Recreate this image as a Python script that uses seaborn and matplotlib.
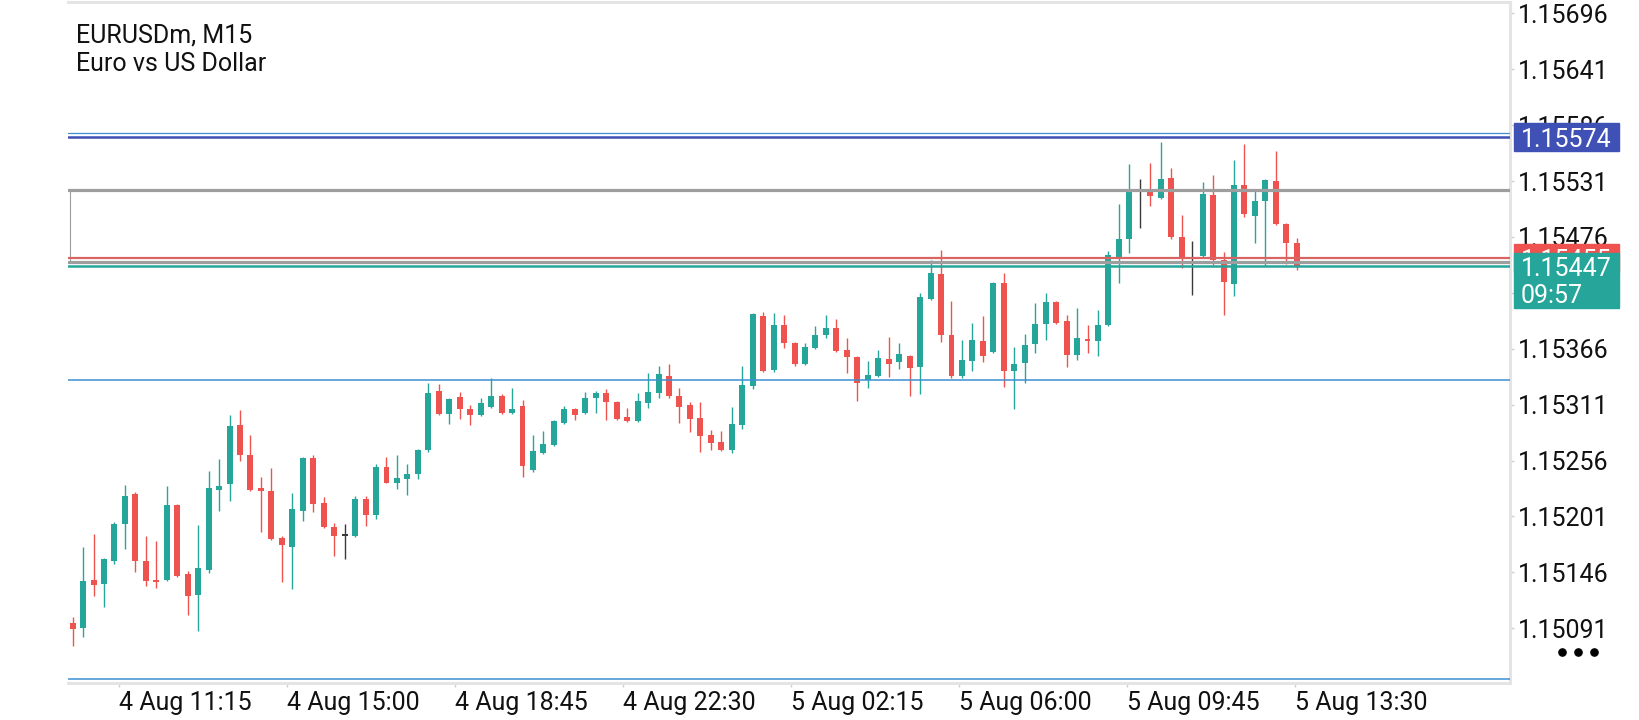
import numpy as np
import pandas as pd
import matplotlib
matplotlib.use('Agg')
import matplotlib.pyplot as plt
import matplotlib.transforms as mtransforms
from matplotlib.patches import Rectangle
from matplotlib.lines import Line2D
import seaborn as sns

# EURUSDm M15 candles
opens = [
    1.15096, 1.15091, 1.15139, 1.15135, 1.15157, 1.15194, 1.15223, 1.15157, 1.15139, 1.15139,
    1.15212, 1.15144, 1.15124, 1.15148, 1.15227, 1.15233, 1.15291, 1.15261, 1.15229, 1.15226,
    1.15180, 1.15171, 1.15206, 1.15259, 1.15214, 1.15191, 1.15182, 1.15182, 1.15218, 1.15202,
    1.15250, 1.15234, 1.15238, 1.15243, 1.15266, 1.15324, 1.15302, 1.15319, 1.15307, 1.15301,
    1.15309, 1.15320, 1.15303, 1.15310, 1.15247, 1.15263, 1.15271, 1.15293, 1.15307, 1.15303,
    1.15318, 1.15322, 1.15314, 1.15299, 1.15295, 1.15313, 1.15322, 1.15339, 1.15320, 1.15311,
    1.15298, 1.15281, 1.15274, 1.15266, 1.15291, 1.15329, 1.15398, 1.15345, 1.15389, 1.15372,
    1.15351, 1.15367, 1.15380, 1.15386, 1.15365, 1.15358, 1.15335, 1.15339, 1.15356, 1.15353,
    1.15359, 1.15348, 1.15415, 1.15440, 1.15380, 1.15339, 1.15354, 1.15374, 1.15363, 1.15431,
    1.15344, 1.15352, 1.15371, 1.15390, 1.15412, 1.15393, 1.15360, 1.15376, 1.15374, 1.15389,
    1.15456, 1.15474, 1.15522, 1.15521, 1.15514, 1.15534, 1.15476, 1.15455, 1.15457, 1.15517,
    1.15453, 1.15430, 1.15527, 1.15497, 1.15511, 1.15531, 1.15489, 1.15470]
highs = [
    1.15102, 1.15171, 1.15184, 1.15160, 1.15196, 1.15232, 1.15225, 1.15182, 1.15177, 1.15231,
    1.15213, 1.15147, 1.15193, 1.15246, 1.15258, 1.15301, 1.15306, 1.15281, 1.15240, 1.15249,
    1.15182, 1.15224, 1.15260, 1.15261, 1.15220, 1.15195, 1.15194, 1.15221, 1.15221, 1.15253,
    1.15260, 1.15261, 1.15253, 1.15267, 1.15332, 1.15331, 1.15318, 1.15323, 1.15311, 1.15318,
    1.15337, 1.15321, 1.15327, 1.15316, 1.15281, 1.15285, 1.15296, 1.15310, 1.15308, 1.15323,
    1.15324, 1.15326, 1.15315, 1.15308, 1.15322, 1.15342, 1.15349, 1.15351, 1.15327, 1.15314,
    1.15314, 1.15286, 1.15285, 1.15309, 1.15349, 1.15401, 1.15402, 1.15401, 1.15399, 1.15373,
    1.15372, 1.15388, 1.15399, 1.15395, 1.15377, 1.15359, 1.15354, 1.15365, 1.15378, 1.15372,
    1.15360, 1.15421, 1.15453, 1.15463, 1.15413, 1.15375, 1.15391, 1.15398, 1.15432, 1.15441,
    1.15368, 1.15381, 1.15411, 1.15421, 1.15413, 1.15399, 1.15406, 1.15389, 1.15404, 1.15462,
    1.15508, 1.15548, 1.15533, 1.15549, 1.15569, 1.15544, 1.15498, 1.15472, 1.15530, 1.15537,
    1.15461, 1.15552, 1.15567, 1.15521, 1.15533, 1.15561, 1.15490, 1.15475]
lows = [
    1.15074, 1.15082, 1.15123, 1.15112, 1.15154, 1.15169, 1.15146, 1.15133, 1.15131, 1.15138,
    1.15141, 1.15104, 1.15088, 1.15145, 1.15206, 1.15216, 1.15256, 1.15226, 1.15186, 1.15178,
    1.15137, 1.15130, 1.15197, 1.15205, 1.15190, 1.15162, 1.15159, 1.15181, 1.15192, 1.15199,
    1.15234, 1.15228, 1.15222, 1.15238, 1.15264, 1.15301, 1.15292, 1.15297, 1.15291, 1.15300,
    1.15308, 1.15302, 1.15302, 1.15240, 1.15245, 1.15262, 1.15270, 1.15292, 1.15296, 1.15302,
    1.15303, 1.15296, 1.15296, 1.15294, 1.15294, 1.15308, 1.15318, 1.15318, 1.15293, 1.15284,
    1.15264, 1.15266, 1.15265, 1.15263, 1.15287, 1.15326, 1.15343, 1.15343, 1.15367, 1.15349,
    1.15350, 1.15366, 1.15377, 1.15363, 1.15342, 1.15315, 1.15327, 1.15338, 1.15338, 1.15346,
    1.15320, 1.15321, 1.15414, 1.15373, 1.15337, 1.15337, 1.15344, 1.15353, 1.15362, 1.15328,
    1.15307, 1.15332, 1.15362, 1.15375, 1.15390, 1.15348, 1.15355, 1.15362, 1.15359, 1.15388,
    1.15431, 1.15460, 1.15485, 1.15506, 1.15513, 1.15474, 1.15445, 1.15419, 1.15455, 1.15448,
    1.15399, 1.15418, 1.15496, 1.15470, 1.15447, 1.15488, 1.15449, 1.15443]
closes = [
    1.15090, 1.15138, 1.15134, 1.15159, 1.15194, 1.15221, 1.15157, 1.15138, 1.15137, 1.15212,
    1.15142, 1.15123, 1.15150, 1.15229, 1.15231, 1.15290, 1.15261, 1.15227, 1.15226, 1.15179,
    1.15173, 1.15208, 1.15259, 1.15213, 1.15191, 1.15182, 1.15182, 1.15218, 1.15202, 1.15250,
    1.15234, 1.15239, 1.15243, 1.15266, 1.15322, 1.15302, 1.15317, 1.15307, 1.15301, 1.15313,
    1.15320, 1.15303, 1.15307, 1.15251, 1.15265, 1.15272, 1.15295, 1.15307, 1.15301, 1.15318,
    1.15322, 1.15314, 1.15297, 1.15295, 1.15315, 1.15323, 1.15341, 1.15320, 1.15309, 1.15297,
    1.15280, 1.15273, 1.15266, 1.15292, 1.15330, 1.15400, 1.15344, 1.15389, 1.15372, 1.15351,
    1.15368, 1.15380, 1.15386, 1.15364, 1.15358, 1.15332, 1.15340, 1.15357, 1.15351, 1.15361,
    1.15347, 1.15417, 1.15441, 1.15380, 1.15339, 1.15355, 1.15375, 1.15359, 1.15431, 1.15344,
    1.15351, 1.15370, 1.15390, 1.15412, 1.15391, 1.15360, 1.15377, 1.15374, 1.15389, 1.15458,
    1.15474, 1.15522, 1.15522, 1.15516, 1.15533, 1.15476, 1.15454, 1.15455, 1.15518, 1.15453,
    1.15432, 1.15527, 1.15499, 1.15511, 1.15532, 1.15489, 1.15470, 1.15447]

time_labels = ['4 Aug 11:15', '4 Aug 15:00', '4 Aug 18:45', '4 Aug 22:30',
               '5 Aug 02:15', '5 Aug 06:00', '5 Aug 09:45', '5 Aug 13:30']
price_ticks = [1.15696, 1.15641, 1.15586, 1.15531, 1.15476, 1.15421,
               1.15366, 1.15311, 1.15256, 1.15201, 1.15146, 1.15091]

# horizontal objects on the chart
alert_line = 1.15574
alert_line_thin = 1.15578
box_top = 1.15522
box_bottom = 1.15451
ask_price = 1.15455
bid_price = 1.15447
level_mid = 1.15335
level_low = 1.15041
countdown = '09:57'
title_line1 = 'EURUSDm, M15'
title_line2 = 'Euro vs US Dollar'

TEAL = '#26a69a'
RED = '#ef5350'
DOJI = '#3a3a3a'
INDIGO = '#3f51b5'
LBLUE = '#3d8fd1'
GRAY = '#9e9e9e'
FRAME = '#e4e4e4'

sns.set_theme(style='white')
plt.rcParams['font.family'] = ['Roboto', 'DejaVu Sans']

df = pd.DataFrame({'open': opens, 'high': highs, 'low': lows, 'close': closes})
df['bar'] = np.arange(len(df))
df['color'] = np.where(df['close'] > df['open'], TEAL,
                       np.where(df['close'] < df['open'], RED, DOJI))
df['body_low'] = df[['open', 'close']].min(axis=1)
df['body_h'] = (df['close'] - df['open']).abs().clip(lower=0.000014)

W, H = 1640, 720
fig = plt.figure(figsize=(W / 100, H / 100), dpi=100)
fig.patch.set_facecolor('white')
ax = fig.add_axes([68 / W, 37 / H, 1442 / W, 681 / H])

# candles
ax.vlines(df['bar'], df['low'], df['high'], colors=df['color'], lw=1.0, zorder=2)
ax.bar(df['bar'], df['body_h'], bottom=df['body_low'], width=0.57,
       color=df['color'], linewidth=0, zorder=3)

xmin, xmax = -0.44, 137.38
ax.set_xlim(xmin, xmax)
ax.set_ylim(1.150372, 1.157071)

# horizontal lines / rectangle
ax.axhline(alert_line_thin, color=LBLUE, lw=0.9, zorder=4)
ax.axhline(alert_line, color=INDIGO, lw=1.8, zorder=4)
ax.add_patch(Rectangle((xmin + 0.15, box_bottom), 300, box_top - box_bottom,
                       fill=False, edgecolor=GRAY, lw=0.8, zorder=4))
ax.axhline(box_top, color=GRAY, lw=2.3, zorder=4)
ax.axhline(box_bottom, color=GRAY, lw=2.3, zorder=4)
ax.axhline(ask_price, color='#d96462', lw=1.6, zorder=5)
ax.axhline(bid_price, color=TEAL, lw=1.8, zorder=5)
ax.axhline(level_mid, color=LBLUE, lw=1.1, zorder=4)
ax.axhline(level_low, color=LBLUE, lw=1.1, zorder=4)

# frame
for side in ['top', 'right', 'bottom']:
    ax.spines[side].set_color(FRAME)
    ax.spines[side].set_linewidth(2.2)
ax.spines['left'].set_visible(False)

# axes ticks
ax.yaxis.tick_right()
ax.set_yticks(price_ticks)
ax.set_yticklabels([f'{p:.5f}' for p in price_ticks])
ax.tick_params(axis='y', right=True, length=3, width=1, color='#cfcfcf',
               pad=2.5, labelsize=18, labelcolor='#111111')

tick_pos = np.linspace(4.46, 116.86, len(time_labels))
ax.set_xticks(tick_pos)
ax.set_xticklabels(time_labels)
ax.tick_params(axis='x', bottom=True, length=3, width=1, color='#cfcfcf',
               pad=3, labelsize=18, labelcolor='#111111')
for lbl in ax.get_xticklabels():
    lbl.set_horizontalalignment('left')
ax.grid(False)

# title
fig.text(76 / W, 1 - 43 / H, title_line1, fontsize=18, color='#111111', va='baseline')
fig.text(76 / W, 1 - 71 / H, title_line2, fontsize=18, color='#111111', va='baseline')

# price labels on the right scale
tf = mtransforms.blended_transform_factory(fig.transFigure, ax.transData)
bx, bw = 1514 / W, 105 / W
half = 0.000138

fig.add_artist(Rectangle((bx, alert_line - half), bw, 2 * half, transform=tf,
                         color=INDIGO, zorder=10))
fig.text(1521 / W, alert_line, f'{alert_line:.5f}', transform=tf, color='white',
         fontsize=18, va='center_baseline', zorder=11)

fig.add_artist(Rectangle((bx, ask_price - half), bw, 2 * half, transform=tf,
                         color=RED, zorder=10))
fig.text(1521 / W, ask_price, f'{ask_price:.5f}', transform=tf, color='white',
         fontsize=18, va='center_baseline', zorder=11)

fig.add_artist(Rectangle((bx, bid_price - 0.000409), bw, 0.000541, transform=tf,
                         color=TEAL, zorder=12))
fig.text(1521 / W, bid_price, f'{bid_price:.5f}', transform=tf, color='white',
         fontsize=18, va='center_baseline', zorder=13)
fig.text(1521 / W, bid_price - 0.000271, countdown, transform=tf, color='white',
         fontsize=18, va='center_baseline', zorder=13)

# menu dots
fig.add_artist(Line2D([1562 / W, 1578 / W, 1594 / W], [1 - 652 / H] * 3,
                      transform=fig.transFigure, ls='', marker='o', ms=5.2,
                      color='black', zorder=10))

fig.savefig('out.png', dpi=100, facecolor='white')
